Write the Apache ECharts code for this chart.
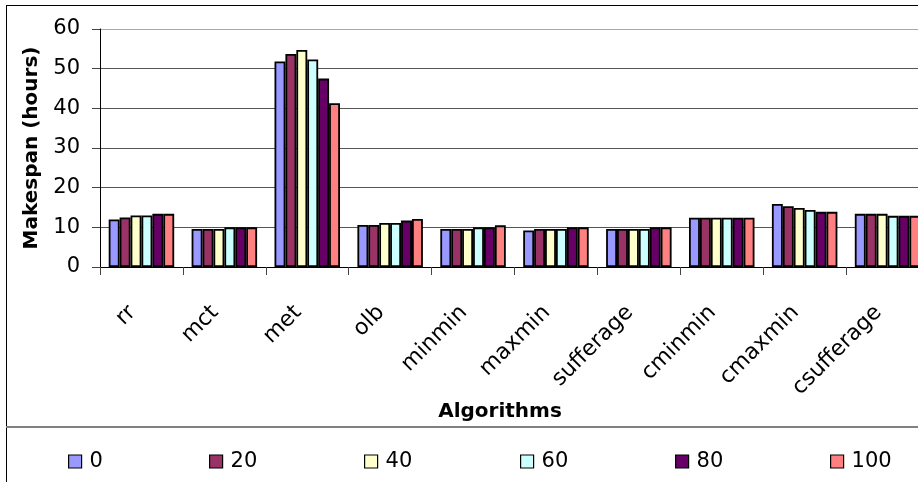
<!DOCTYPE html>
<html>
<head>
<meta charset="utf-8">
<script src="https://cdn.jsdelivr.net/npm/echarts@6/dist/echarts.min.js"></script>
<style>
  html, body { margin: 0; padding: 0; background: #fff; overflow: hidden; }
  #chart { width: 940px; height: 482px; }
</style>
</head>
<body>
<div id="chart"></div>
<script>
// Scheduling algorithms on the x axis
const algorithms = ['rr', 'mct', 'met', 'olb', 'minmin', 'maxmin', 'sufferage', 'cminmin', 'cmaxmin', 'csufferage'];

// Makespan (hours) per algorithm, one array per setting
const s0   = [12.0,  9.6, 51.8, 10.6,  9.6,  9.2,  9.6, 12.4, 15.9, 13.4];
const s20  = [12.5,  9.6, 53.7, 10.6,  9.6,  9.6,  9.6, 12.4, 15.3, 13.4];
const s40  = [13.0,  9.6, 54.7, 11.1,  9.6,  9.6,  9.6, 12.4, 14.9, 13.4];
const s60  = [13.0, 10.0, 52.3, 11.1, 10.0,  9.6,  9.6, 12.4, 14.4, 12.9];
const s80  = [13.4, 10.0, 47.5, 11.7, 10.0, 10.0, 10.0, 12.4, 13.9, 12.9];
const s100 = [13.4, 10.0, 41.3, 12.1, 10.5, 10.0, 10.0, 12.4, 13.9, 12.9];

const seriesNames = ['0', '20', '40', '60', '80', '100'];
const seriesData = [s0, s20, s40, s60, s80, s100];
const seriesColors = ['#9999FF', '#993366', '#FFFFCC', '#CCFFFF', '#660066', '#FF8080'];

// Y axis range
const yMin = 0, yMax = 60, yStep = 10;

const legendLefts = [63, 204, 359, 515, 670, 825];

const chart = echarts.init(document.getElementById('chart'), null, { renderer: 'canvas' });

const option = {
  animation: false,
  backgroundColor: '#fff',
  textStyle: { fontFamily: 'DejaVu Sans', color: '#000' },
  grid: { left: 100, top: 29, right: 11, bottom: 215, containLabel: false },
  xAxis: {
    type: 'category',
    data: algorithms,
    name: 'Algorithms',
    nameLocation: 'middle',
    nameGap: 134,
    nameTextStyle: {
      fontFamily: 'DejaVu Sans', fontWeight: 'bold', fontSize: 20, color: '#000',
      padding: [0, 29, 0, 0]
    },
    axisLine: { lineStyle: { color: '#000', width: 1 } },
    axisTick: { show: true, length: 8, lineStyle: { color: '#444' } },
    axisLabel: {
      rotate: 45, margin: 33, fontSize: 22, color: '#000',
      fontFamily: 'DejaVu Sans', padding: [0, 13, 0, 0]
    }
  },
  yAxis: {
    type: 'value',
    min: yMin, max: yMax, interval: yStep,
    name: 'Makespan (hours)',
    nameLocation: 'middle',
    nameGap: 58,
    nameTextStyle: { fontFamily: 'DejaVu Sans', fontWeight: 'bold', fontSize: 20, color: '#000' },
    axisLine: { show: true, lineStyle: { color: '#000', width: 1 } },
    axisTick: { show: true, length: 8, lineStyle: { color: '#444' } },
    axisLabel: { margin: 20, fontSize: 21, color: '#000', fontFamily: 'DejaVu Sans' },
    splitLine: {
      show: true,
      lineStyle: { color: ['#555', '#555', '#555', '#555', '#555', '#555', '#a8a8a8'], width: 1.2 }
    }
  },
  legend: seriesNames.map((n, i) => ({
    data: [n],
    left: legendLefts[i],
    top: 446,
    itemWidth: 13,
    itemHeight: 13,
    icon: 'rect',
    itemStyle: { borderColor: '#000', borderWidth: 1.2 },
    textStyle: { fontSize: 21, fontFamily: 'DejaVu Sans', color: '#000', lineHeight: 20, padding: [0, 0, 0, 3] },
    selectedMode: false
  })),
  graphic: [
    { type: 'line', shape: { x1: 6.5, y1: 5.5, x2: 6.5, y2: 482 }, style: { stroke: '#000', lineWidth: 1 }, silent: true },
    { type: 'line', shape: { x1: 6, y1: 5.5, x2: 940, y2: 5.5 }, style: { stroke: '#000', lineWidth: 1 }, silent: true },
    { type: 'line', shape: { x1: 6, y1: 427, x2: 940, y2: 427 }, style: { stroke: '#808080', lineWidth: 2 }, silent: true }
  ],
  series: seriesNames.map((n, i) => ({
    name: n,
    type: 'bar',
    data: seriesData[i],
    barGap: '0%',
    barCategoryGap: '21%',
    itemStyle: { color: seriesColors[i], borderColor: '#000', borderWidth: 1.8 }
  }))
};

chart.setOption(option);
</script>
</body>
</html>
